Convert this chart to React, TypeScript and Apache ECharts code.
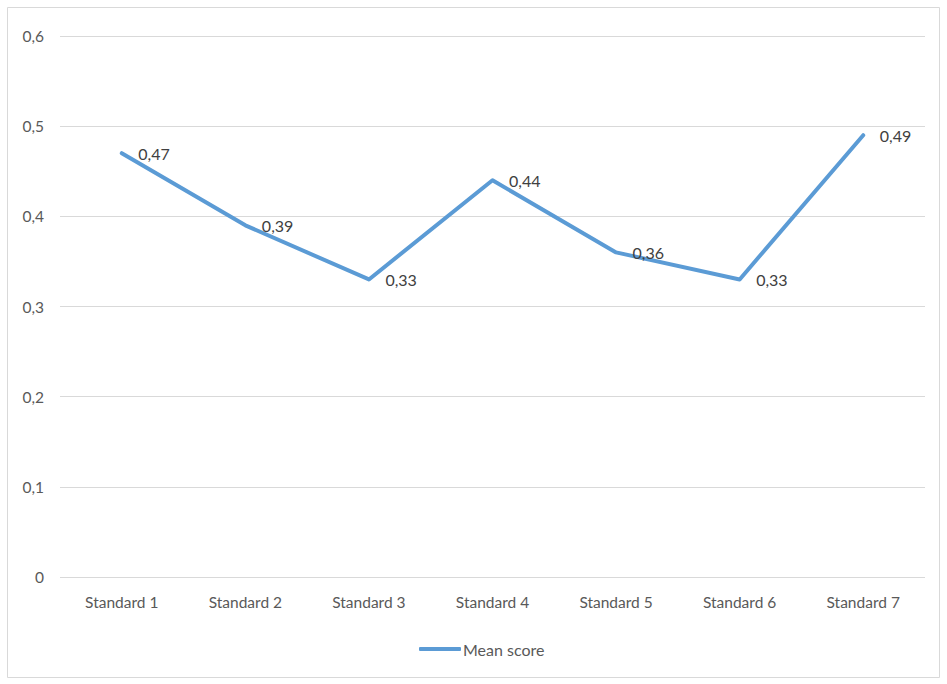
import React, { useEffect, useRef } from "react";
import * as echarts from "echarts";

const categories = [
  "Standard 1",
  "Standard 2",
  "Standard 3",
  "Standard 4",
  "Standard 5",
  "Standard 6",
  "Standard 7",
];
const meanScores = [0.47, 0.39, 0.33, 0.44, 0.36, 0.33, 0.49];
const seriesName = "Mean score";

const FONT = "Lato";
const TEXT = "#595959";
const LINE = "#5b9bd5";

const comma = (v: number, digits: number) =>
  v === 0 ? "0" : v.toFixed(digits).replace(".", ",");

export default function App() {
  const ref = useRef<HTMLDivElement>(null);

  useEffect(() => {
    if (!ref.current) return;
    const chart = echarts.init(ref.current, undefined, { renderer: "svg" });
    chart.setOption({
      animation: false,
      backgroundColor: "#ffffff",
      textStyle: { fontFamily: FONT },
      graphic: [
        {
          type: "rect",
          shape: { x: 7.5, y: 7.5, width: 932, height: 670 },
          style: { fill: "none", stroke: "#d9d9d9", lineWidth: 1 },
          silent: true,
        },
      ],
      grid: { left: 60, right: 22, top: 36, bottom: 107, containLabel: false },
      legend: {
        bottom: 22,
        left: 414,
        icon: "roundRect",
        itemWidth: 42,
        itemHeight: 4,
        itemGap: 10,
        textStyle: { color: TEXT, fontSize: 16, fontFamily: FONT, padding: [0, 0, 0, -3] },
        data: [seriesName],
      },
      xAxis: {
        type: "category",
        data: categories,
        axisLine: { show: false },
        axisTick: { show: false },
        axisLabel: { color: TEXT, fontSize: 15.5, fontFamily: FONT, margin: 17 },
      },
      yAxis: {
        type: "value",
        min: 0,
        max: 0.6,
        interval: 0.1,
        axisLine: { show: false },
        axisTick: { show: false },
        splitLine: { lineStyle: { color: "#d9d9d9", width: 1 } },
        axisLabel: {
          color: TEXT,
          fontSize: 15.5,
          fontFamily: FONT,
          margin: 16,
          formatter: (v: number) => comma(v, 1),
        },
      },
      series: [
        {
          name: seriesName,
          type: "line",
          data: meanScores,
          symbol: "circle",
          symbolSize: 1,
          showSymbol: true,
          itemStyle: { color: LINE },
          lineStyle: { color: LINE, width: 4, cap: "round", join: "round" },
          label: {
            show: true,
            position: "right",
            distance: 16,
            color: "#404040",
            fontSize: 16,
            fontFamily: FONT,
            formatter: (p: any) => comma(p.value, 2),
          },
        },
      ],
    });
    return () => chart.dispose();
  }, []);

  return (
    <div
      ref={ref}
      style={{ position: "fixed", left: 0, top: 0, width: 947, height: 684 }}
    />
  );
}
